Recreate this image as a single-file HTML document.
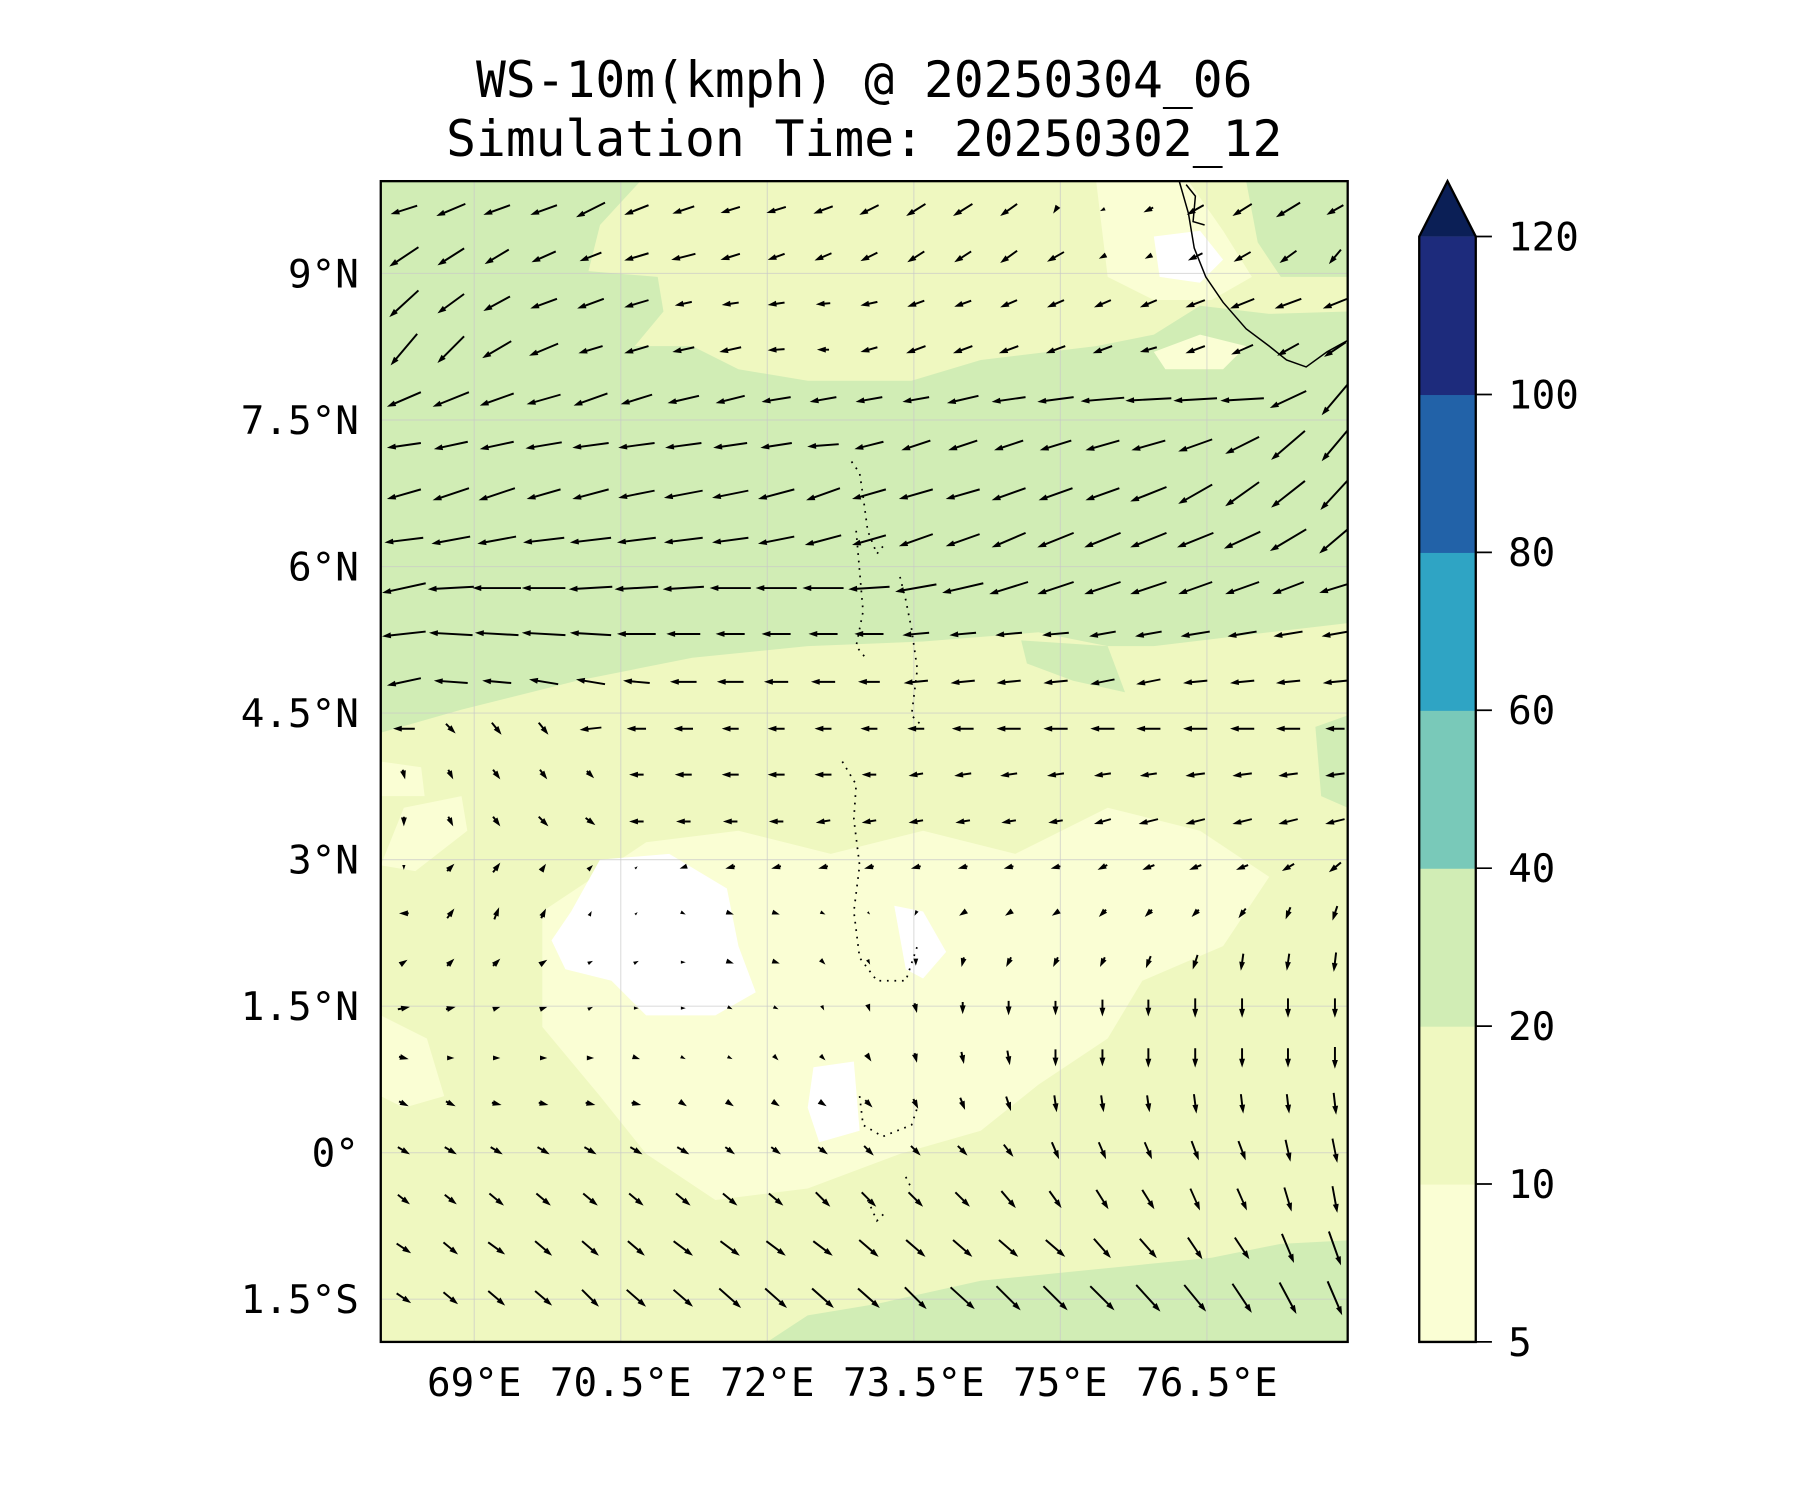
<!DOCTYPE html>
<html><head><meta charset="utf-8"><style>
html,body{margin:0;padding:0;background:#fff;}
svg{display:block;}
text{font-family:"DejaVu Sans Mono","Liberation Mono",monospace;fill:#000;}
</style></head><body>
<svg id="fig" width="1800" height="1500" viewBox="0 0 1560 1300" xmlns="http://www.w3.org/2000/svg">
<defs><clipPath id="mapclip"><rect x="330" y="157" width="838" height="1006"/></clipPath></defs>
<text x="749" y="84" font-size="43" text-anchor="middle">WS-10m(kmph) @ 20250304_06</text>
<text x="749" y="135" font-size="43" text-anchor="middle">Simulation Time: 20250302_12</text>
<g clip-path="url(#mapclip)">
<rect x="330" y="157" width="838" height="1006" fill="#eff8c0"/>
<path fill="#d1edb5" d="M330,157 L555,157 L520,195 L510,235 L570,240 L575,270 L550,300 L600,300 L640,320 L700,330 L790,330 L850,312 L950,300 L1000,290 L1040,265 L1100,272 L1168,270 L1168,540 L1100,548 L1000,560 L960,560 L900,548 L800,556 L700,560 L600,570 L500,590 L400,615 L330,635 Z"/>
<path fill="#d1edb5" d="M1080,157 L1168,157 L1168,240 L1110,240 L1090,210 Z"/>
<path fill="#d1edb5" d="M885,555 L960,560 L975,600 L930,590 L890,575 Z M1140,630 L1168,620 L1168,700 L1145,690 Z"/>
<path fill="#d1edb5" d="M665,1163 L700,1140 L760,1130 L850,1110 L950,1100 L1050,1090 L1110,1078 L1168,1075 L1168,1163 Z"/>
<path fill="#fafed4" d="M560,730 L640,720 L720,740 L800,720 L880,740 L960,700 L1040,720 L1100,760 L1060,820 L990,850 L960,900 L900,940 L850,980 L780,1000 L700,1030 L620,1040 L560,1000 L520,950 L470,890 L470,790 Z"/>
<path fill="#fafed4" d="M330,880 L370,900 L385,950 L350,960 L330,950 Z M330,660 L365,665 L368,690 L330,690 Z M350,700 L400,690 L405,720 L360,755 L330,750 Z"/>
<path fill="#fafed4" d="M950,157 L1030,157 L1060,200 L1085,240 L1050,260 L1000,260 L960,240 Z M1000,305 L1040,290 L1080,300 L1060,320 L1010,320 Z"/>
<path fill="#ffffff" d="M520,745 L580,740 L630,770 L640,820 L655,860 L620,880 L560,880 L530,850 L490,840 L478,815 L495,790 Z"/>
<path fill="#ffffff" d="M775,785 L800,790 L820,825 L800,848 L785,840 Z"/>
<path fill="#ffffff" d="M705,925 L740,920 L745,980 L710,990 L700,960 Z"/>
<path fill="#ffffff" d="M1000,205 L1040,200 L1060,225 L1040,245 L1005,240 Z"/>
<g id="gridlines" stroke="#c8c8c8" stroke-opacity="0.6" stroke-width="1"></g>
<path fill="none" stroke="#000" stroke-width="1.3" d="M1022,157 L1030,185 L1035,215 L1045,240 L1060,262 L1080,285 L1100,300 L1115,312 L1132,318 L1150,305 L1168,295 M1028,160 L1036,170 L1034,192 L1044,195"/>
<path fill="none" stroke="#000" stroke-width="1.5" stroke-dasharray="1.5,5" d="M738,400 L745,410 L748,430 L752,460 L760,480 L768,470 M742,460 L745,495 L748,530 L742,560 L750,570 M780,500 L785,520 L790,545 L795,580 L790,620 L800,630 M730,660 L742,680 L740,710 L745,750 L740,790 L745,830 L760,850 L785,850 L795,820 M745,950 L748,975 L765,985 L790,975 L795,960 M785,1020 L790,1030 M752,1040 L760,1058 L768,1050"/>
<g id="quiver"></g>
</g>
<rect x="330" y="157" width="838" height="1006" fill="none" stroke="#000" stroke-width="2"/>
<g id="axis-labels"></g>
<g id="colorbar"></g>
</svg>
<script>
const NS = 'http://www.w3.org/2000/svg';
// map geometry (displayed units)
const lonTicks = [69, 70.5, 72, 73.5, 75, 76.5];
const lonTickLabels = ['69°E', '70.5°E', '72°E', '73.5°E', '75°E', '76.5°E'];
const latTicks = [9, 7.5, 6, 4.5, 3, 1.5, 0, -1.5];
const latTickLabels = ['9°N', '7.5°N', '6°N', '4.5°N', '3°N', '1.5°N', '0°', '1.5°S'];
const cbLevels = [5, 10, 20, 40, 60, 80, 100, 120];
const cbColors = ['#fafed4', '#eff8c0', '#d1edb5', '#79c9b9', '#2fa4c4', '#2262a8', '#1d2b7c'];
const cbExtendColor = '#0b1f56';
// wind grid
const gridLon = [68.28,68.76,69.23,69.71,70.19,70.66,71.14,71.62,72.09,72.57,73.04,73.52,74.0,74.47,74.95,75.43,75.9,76.38,76.86,77.33,77.81];
const gridLat = [9.65,9.17,8.69,8.22,7.71,7.24,6.74,6.27,5.78,5.31,4.82,4.34,3.87,3.39,2.92,2.45,1.95,1.48,0.97,0.5,0.02,-0.48,-0.98,-1.49];
const U = [
[-22,-24,-22,-22,-24,-20,-18,-16,-16,-16,-16,-16,-16,-14,-4,-4,-8,-14,-16,-20,-14],
[-24,-22,-20,-20,-18,-20,-20,-16,-14,-14,-14,-14,-14,-14,-14,-6,-6,-12,-14,-14,-10],
[-24,-22,-22,-22,-22,-20,-14,-14,-14,-12,-14,-14,-14,-14,-14,-14,-14,-16,-20,-22,-20],
[-22,-22,-24,-24,-20,-20,-18,-18,-14,-10,-14,-16,-16,-16,-16,-16,-14,-16,-18,-18,-18],
[-28,-30,-28,-28,-28,-26,-26,-24,-24,-22,-22,-22,-26,-28,-30,-36,-38,-36,-36,-30,-22],
[-28,-28,-28,-30,-30,-30,-30,-28,-26,-26,-24,-24,-24,-24,-26,-28,-28,-28,-28,-28,-22],
[-28,-30,-30,-28,-30,-30,-32,-30,-30,-28,-28,-28,-28,-28,-28,-28,-30,-28,-28,-28,-24],
[-32,-32,-32,-34,-34,-32,-32,-30,-30,-30,-28,-28,-28,-28,-30,-30,-30,-30,-30,-30,-26],
[-36,-38,-40,-36,-36,-36,-34,-34,-34,-34,-34,-34,-34,-32,-30,-30,-30,-28,-28,-26,-26],
[-36,-36,-36,-36,-34,-32,-28,-24,-24,-24,-24,-22,-22,-22,-22,-22,-22,-24,-24,-24,-22],
[-28,-28,-24,-24,-24,-22,-22,-22,-20,-20,-18,-20,-20,-20,-20,-20,-20,-20,-20,-20,-20],
[-18,8,8,8,-18,-16,-16,-14,-14,-14,-14,-14,-18,-20,-20,-20,-20,-20,-20,-20,-16],
[2,4,6,6,6,-12,-14,-14,-14,-14,-12,-12,-14,-14,-14,-14,-14,-16,-16,-16,-16],
[0,4,6,8,8,-12,-12,-12,-12,-12,-12,-12,-12,-12,-12,-14,-16,-16,-16,-16,-16],
[0,6,6,4,4,2,-6,-8,-8,-8,-8,-8,-8,-8,-8,-8,-10,-10,-10,-10,-10],
[-8,6,4,4,2,2,4,6,6,4,2,-2,-6,-6,-6,-6,-6,-6,-6,-4,-4],
[6,6,6,6,4,4,4,6,6,4,2,0,-2,-4,-4,-4,-4,-4,-2,-2,-2],
[10,8,6,6,4,4,4,4,4,2,2,2,0,0,0,0,0,0,0,0,0],
[8,6,6,6,6,6,4,4,4,4,4,2,2,2,0,0,0,0,0,0,0],
[8,8,8,8,8,8,6,6,6,6,6,4,4,4,2,2,2,2,2,2,2],
[10,10,10,10,10,10,10,8,8,8,8,8,8,8,6,6,6,6,6,4,4],
[10,10,12,12,12,12,12,12,12,12,12,12,12,12,10,10,10,8,8,6,4],
[12,12,14,14,14,14,16,16,16,16,16,16,16,16,16,14,14,12,12,10,10],
[12,12,14,14,14,16,16,18,18,18,18,18,20,20,20,20,20,18,16,14,12]
];
const V = [
[-7,-10,-8,-8,-12,-8,-6,-5,-5,-6,-8,-10,-10,-10,-6,-2,-4,-8,-10,-12,-8],
[-16,-14,-12,-9,-7,-6,-5,-5,-5,-6,-7,-9,-9,-10,-8,-3,-3,-6,-8,-10,-12],
[-22,-16,-12,-8,-8,-6,-3,-2,-2,-1,-3,-5,-5,-6,-6,-6,-6,-6,-8,-8,-8],
[-26,-22,-14,-10,-6,-6,-4,-4,-1,0,-4,-6,-6,-6,-6,-6,-4,-6,-8,-10,-12],
[-12,-12,-10,-8,-10,-8,-6,-6,-4,-4,-4,-4,-6,-4,-4,-3,-2,-2,-2,-14,-26],
[-4,-6,-6,-5,-4,-4,-4,-4,-4,-2,-6,-8,-8,-8,-8,-8,-8,-10,-14,-24,-26],
[-8,-10,-10,-8,-8,-6,-6,-6,-8,-10,-8,-8,-8,-10,-10,-10,-12,-16,-20,-22,-26],
[-4,-6,-6,-4,-4,-4,-4,-4,-6,-8,-8,-10,-10,-12,-12,-12,-12,-12,-14,-18,-22],
[-8,-2,0,0,-2,-2,-2,0,0,0,-2,-6,-8,-10,-10,-10,-10,-10,-10,-10,-8],
[-4,2,2,2,2,0,0,0,0,0,0,-2,-2,-2,-2,-4,-4,-4,-4,-4,-4],
[-6,2,2,4,4,2,0,0,0,0,0,-2,-2,-2,-2,-4,-4,-2,-2,-2,-2],
[0,-8,-10,-10,-2,0,0,0,0,0,0,0,0,0,0,0,0,0,0,0,0],
[-8,-8,-8,-8,-6,0,0,0,0,0,0,-2,-2,-2,-2,-2,-2,-2,-2,-2,-2],
[-8,-8,-8,-8,-6,0,0,0,0,-2,-2,-2,-2,-2,-2,-4,-4,-4,-4,-4,-4],
[-4,6,8,6,4,2,-2,-2,-2,-2,-2,-2,-2,-2,-2,-4,-4,-4,-4,-6,-8],
[0,8,10,8,4,2,-2,-2,-2,-2,-2,-4,-4,-4,-4,-6,-6,-6,-8,-10,-12],
[4,6,6,4,2,2,0,-2,-2,-4,-4,-6,-8,-8,-8,-8,-10,-12,-14,-14,-16],
[2,2,2,2,2,0,0,-2,-2,-4,-6,-8,-10,-12,-12,-14,-14,-16,-16,-16,-16],
[-2,0,0,0,0,-2,-2,-2,-4,-4,-6,-8,-10,-12,-14,-14,-16,-16,-16,-16,-18],
[-4,-4,-2,-2,-2,-2,-4,-4,-4,-4,-6,-8,-10,-12,-14,-14,-14,-16,-16,-16,-18],
[-6,-6,-6,-6,-6,-6,-6,-6,-6,-6,-8,-8,-8,-10,-14,-14,-14,-16,-16,-18,-20],
[-8,-8,-10,-10,-10,-10,-10,-10,-10,-12,-12,-12,-12,-14,-14,-16,-16,-18,-18,-20,-22],
[-8,-10,-10,-12,-12,-12,-12,-12,-12,-12,-14,-14,-14,-14,-14,-16,-16,-18,-18,-24,-28],
[-8,-10,-12,-12,-14,-14,-14,-16,-16,-16,-16,-18,-18,-20,-20,-20,-22,-22,-24,-26,-28]
];
// axis functions
const lonToX = lon => 411 + (lon - 69) / 1.5 * 127;
const latToY = lat => 999 - lat / 1.5 * 127;
const cbTop = 205, cbBot = 1163;
const levelToY = i => cbBot - i * (cbBot - cbTop) / (cbLevels.length - 1);
const qScale = 1.05;

function mk(tag, attrs, parent) {
  const e = document.createElementNS(NS, tag);
  for (const k in attrs) e.setAttribute(k, attrs[k]);
  parent.appendChild(e);
  return e;
}
// gridlines
const gg = document.getElementById('gridlines');
lonTicks.forEach(l => {
  const ln = mk('line', {x1: lonToX(l), x2: lonToX(l), y1: 157, y2: 1163}, gg);
  
  
});
latTicks.forEach(l => {
  const ln = mk('line', {x1: 330, x2: 1168, y1: latToY(l), y2: latToY(l)}, gg);
  
  
});
// axis labels
const al = document.getElementById('axis-labels');
lonTicks.forEach((l, i) => {
  const t = mk('text', {x: lonToX(l), y: 1210, 'font-size': 34, 'text-anchor': 'middle'}, al);
  t.textContent = lonTickLabels[i];
  
  
});
latTicks.forEach((l, i) => {
  const t = mk('text', {x: 311, y: latToY(l) + 12, 'font-size': 34, 'text-anchor': 'end'}, al);
  t.textContent = latTickLabels[i];
  
  
});
// quiver
const qg = document.getElementById('quiver');
const W = 1.7, HL = 4.5 * W, HW = 3 * W;
for (let r = 0; r < gridLat.length; r++) {
  for (let c = 0; c < gridLon.length; c++) {
    const u = U[r][c], v = V[r][c];
    const dx = u * qScale, dy = -v * qScale;
    const L = Math.hypot(dx, dy);
    if (L < 0.5) continue;
    const ux = dx / L, uy = dy / L, px = -uy, py = ux;
    const cx = lonToX(gridLon[c]), cy = latToY(gridLat[r]);
    const x0 = cx - dx / 2, y0 = cy - dy / 2;
    let k = 1, hl = HL, hw = HW, w = W;
    if (L < HL) { k = L / HL; hl = L; hw = HW * k; w = W * k; }
    const sl = L - hl;
    const pts = [
      [x0 + px * w / 2, y0 + py * w / 2],
      [x0 + ux * sl + px * w / 2, y0 + uy * sl + py * w / 2],
      [x0 + ux * sl + px * hw / 2, y0 + uy * sl + py * hw / 2],
      [x0 + ux * L, y0 + uy * L],
      [x0 + ux * sl - px * hw / 2, y0 + uy * sl - py * hw / 2],
      [x0 + ux * sl - px * w / 2, y0 + uy * sl - py * w / 2],
      [x0 - px * w / 2, y0 - py * w / 2]
    ];
    const a = mk('polygon', {points: pts.map(p => p[0].toFixed(1) + ',' + p[1].toFixed(1)).join(' '), fill: '#000'}, qg);
    
    
  }
}
// colorbar
const cb = document.getElementById('colorbar');
cbColors.forEach((col, i) => {
  const y1 = levelToY(i + 1), y0 = levelToY(i);
  const rc = mk('rect', {x: 1230, y: y1, width: 49, height: y0 - y1 + 0.5, fill: col}, cb);
  
  
});
const tri = mk('polygon', {points: `1230,${cbTop} 1254.5,157 1279,${cbTop}`, fill: cbExtendColor}, cb);


const outline = mk('path', {d: `M1230,${cbBot} L1230,${cbTop} L1254.5,157 L1279,${cbTop} L1279,${cbBot} Z`, fill: 'none', stroke: '#000', 'stroke-width': 2}, cb);


cbLevels.forEach((lv, i) => {
  const y = levelToY(i);
  const tk = mk('line', {x1: 1279, x2: 1293, y1: y, y2: y, stroke: '#000', 'stroke-width': 1.5}, cb);
  
  
  const t = mk('text', {x: 1307, y: y + 12, 'font-size': 34}, cb);
  t.textContent = lv;
  
  
});
</script>
</body></html>
